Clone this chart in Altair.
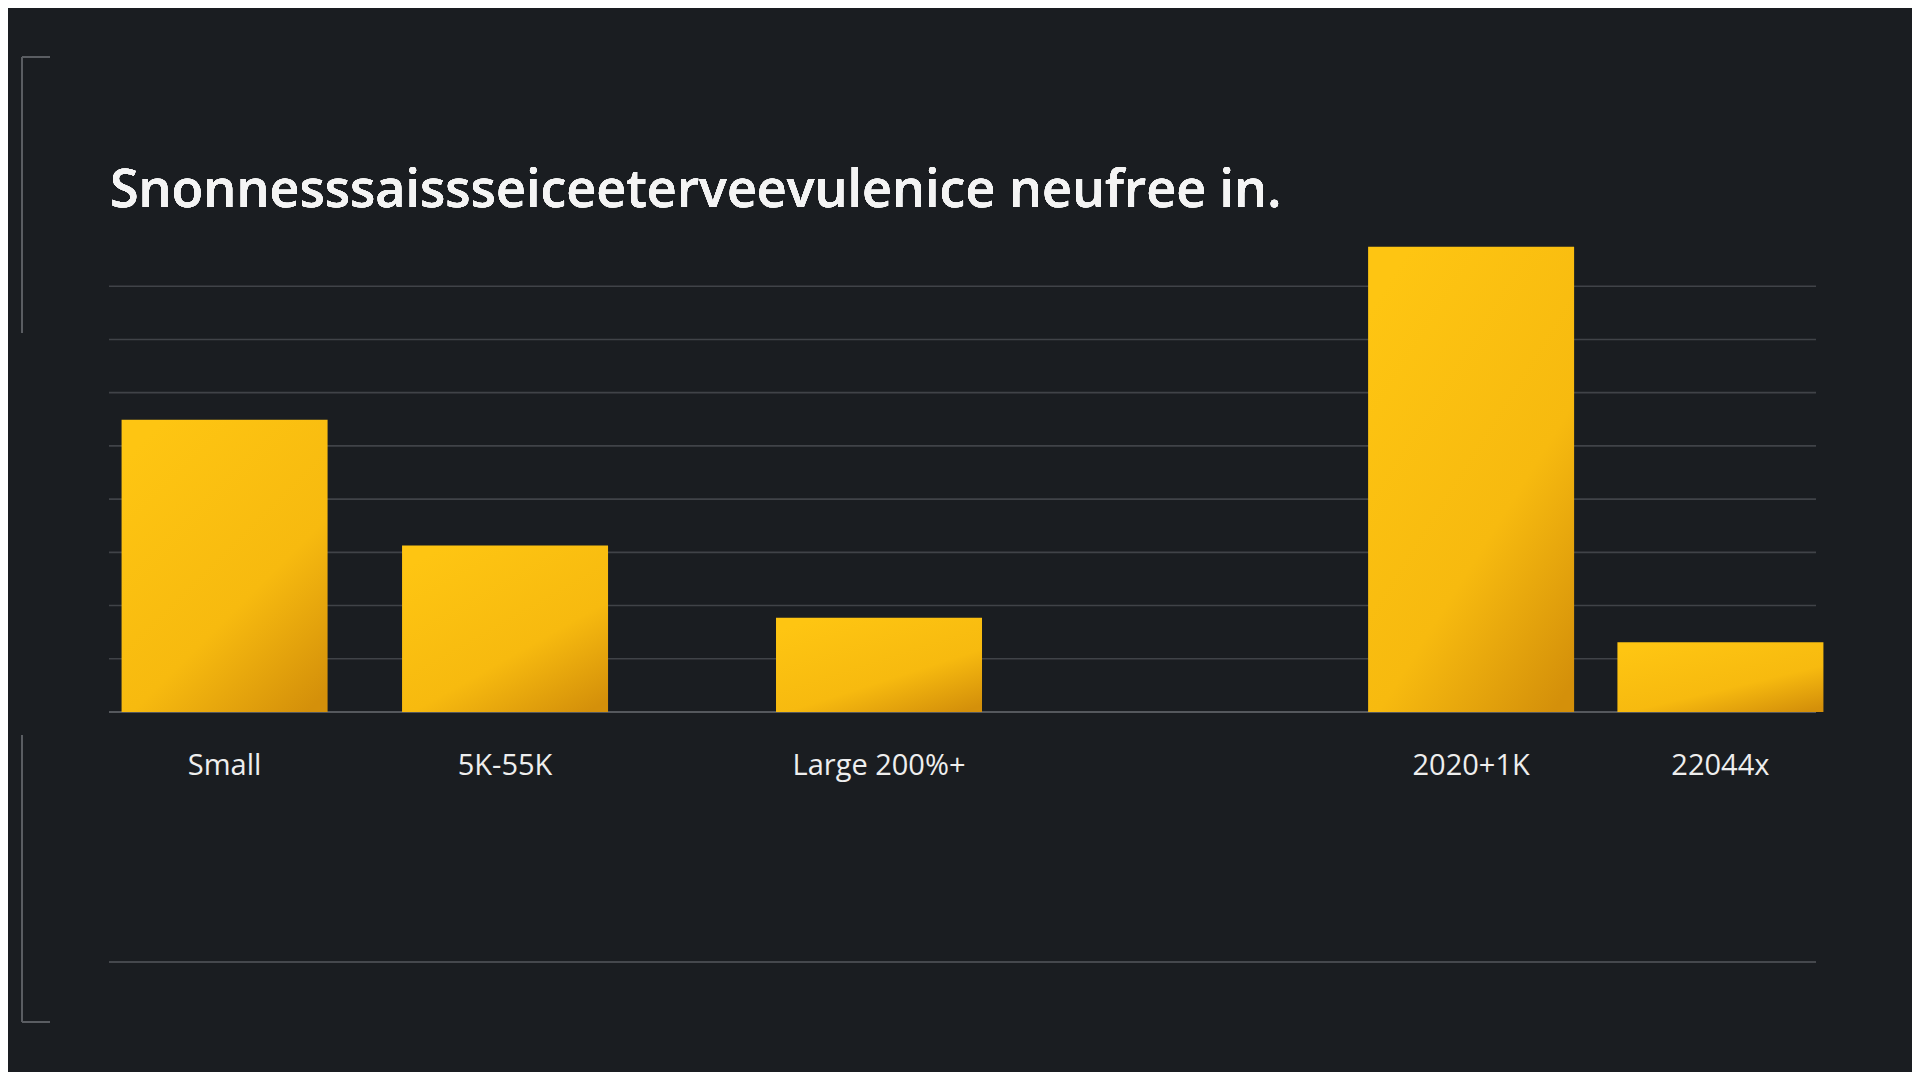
import altair as alt
import pandas as pd

# values (no y labels, so units are grid steps x10)
categories = ["Small", "5K-55K", "Large 200%+", "2020+1K", "22044x"]
values = [54.9, 31.3, 17.7, 87.4, 13.1]
title_text = "Snonnesssaissseiceeterveevulenice neufree in."
grid_values = [10, 20, 30, 40, 50, 60, 70, 80]

# empty slots between the bars give the uneven spacing of the reference
gaps = [8, 11, 18, 7]
slots = [categories[0]]
blank = 1
for cat, g in zip(categories[1:], gaps):
    for _ in range(g):
        slots.append(" " * blank)
        blank += 1
    slots.append(cat)

data = pd.DataFrame({"Category": categories, "Value": values})
grid = pd.DataFrame({"Value": grid_values})

W, H = 1707, 479
BG = "#1a1d21"
LINE = "#55585d"

gold = alt.Gradient(
    gradient="linear",
    stops=[alt.GradientStop(color="#fec512", offset=0),
           alt.GradientStop(color="#f7ba0f", offset=0.6),
           alt.GradientStop(color="#d4900a", offset=1)],
    x1=0.2, y1=0, x2=0.9, y2=1,
)

y_scale = alt.Scale(domain=[0, 90], nice=False)

gridlines = alt.Chart(grid).mark_rule(color="#404348", strokeWidth=1.6).encode(
    y=alt.Y("Value:Q", scale=y_scale, axis=None),
    x=alt.value(0), x2=alt.value(W),
)

bars = alt.Chart(data).mark_bar(width=206, color=gold).encode(
    x=alt.X("Category:N", sort=slots,
            scale=alt.Scale(domain=slots, range=[100, 1627], paddingInner=0, paddingOuter=0),
            axis=alt.Axis(title=None, ticks=False, tickSize=0, labelPadding=39,
                          labelFont="Open Sans", labelFontSize=29, labelColor="#eeeeee",
                          labelAngle=0, labelOverlap=False, labelLimit=400,
                          domain=False, grid=False)),
    y=alt.Y("Value:Q", scale=y_scale, axis=None),
)

title = alt.Chart(data).mark_text(
    align="left", baseline="alphabetic", font="Open Sans", fontSize=52,
    fontWeight=600, color="#f4f4f4"
).encode(x=alt.value(1), y=alt.value(-26), text=alt.value(title_text))

# baseline, decorative bottom rule and left brackets
baseline = alt.Chart(data).mark_rule(color=LINE, strokeWidth=2).encode(
    x=alt.value(0), x2=alt.value(W), y=alt.value(H)
)
bottom = alt.Chart(data).mark_rule(color="#45484d", strokeWidth=2).encode(
    x=alt.value(0), x2=alt.value(W), y=alt.value(729)
)
bracket_top_v = alt.Chart(data).mark_rule(color="#5a5d62", strokeWidth=2).encode(
    x=alt.value(-87), y=alt.value(-176), y2=alt.value(100)
)
bracket_top_h = alt.Chart(data).mark_rule(color="#5a5d62", strokeWidth=2).encode(
    x=alt.value(-87), x2=alt.value(-59), y=alt.value(-176)
)
bracket_bot_v = alt.Chart(data).mark_rule(color="#5a5d62", strokeWidth=2).encode(
    x=alt.value(-87), y=alt.value(502), y2=alt.value(789)
)
bracket_bot_h = alt.Chart(data).mark_rule(color="#5a5d62", strokeWidth=2).encode(
    x=alt.value(-87), x2=alt.value(-59), y=alt.value(789)
)

chart = alt.layer(
    gridlines, baseline, bars, title, bottom,
    bracket_top_v, bracket_top_h, bracket_bot_v, bracket_bot_h
).properties(
    width=W,
    height=H,
    autosize=alt.AutoSizeParams(type="none"),
    padding={"left": 101, "top": 225, "right": 96, "bottom": 360},
    background=BG,
).configure_view(stroke=None)

chart.save("out.html", embed_options={"renderer": "svg", "actions": False})
